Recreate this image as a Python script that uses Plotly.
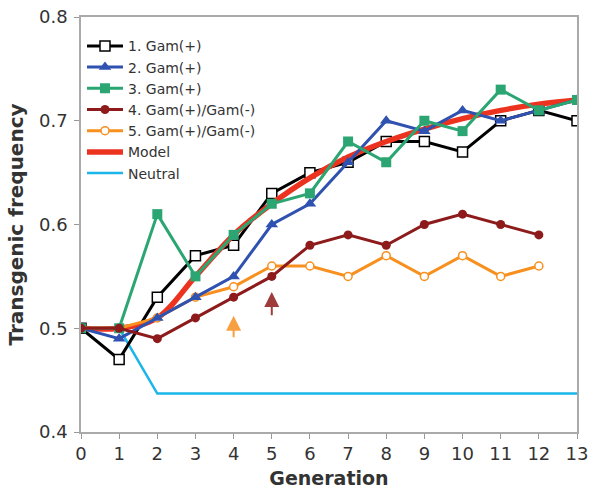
import plotly.graph_objects as go

generation = list(range(14))
gam1 = [0.50, 0.47, 0.53, 0.57, 0.58, 0.63, 0.65, 0.66, 0.68, 0.68, 0.67, 0.70, 0.71, 0.70]
gam2 = [0.50, 0.49, 0.51, 0.53, 0.55, 0.60, 0.62, 0.66, 0.70, 0.69, 0.71, 0.70, 0.71, 0.72]
gam3 = [0.50, 0.50, 0.61, 0.55, 0.59, 0.62, 0.63, 0.68, 0.66, 0.70, 0.69, 0.73, 0.71, 0.72]
gam4 = [0.50, 0.50, 0.49, 0.51, 0.53, 0.55, 0.58, 0.59, 0.58, 0.60, 0.61, 0.60, 0.59]
gam5 = [0.50, 0.50, 0.51, 0.53, 0.54, 0.56, 0.56, 0.55, 0.57, 0.55, 0.57, 0.55, 0.56]
model = [0.50, 0.50, 0.51, 0.55, 0.59, 0.62, 0.645, 0.665, 0.68, 0.692, 0.702, 0.71, 0.716, 0.72]
neutral = [0.50, 0.50, 0.437, 0.437, 0.437, 0.437, 0.437, 0.437, 0.437, 0.437, 0.437, 0.437, 0.437, 0.437]

# arrows: (generation, tail value, tip value, colour)
arrow_gen = [4, 5]
arrow_tail = [0.490, 0.511]
arrow_tip = [0.512, 0.535]
arrow_col = ["#F7901E", "#8E1B1B"]

fig = go.Figure()

fig.add_trace(go.Scatter(x=generation, y=neutral, mode="lines", name="Neutral",
                         line=dict(color="#1CB5EA", width=2.5), legendrank=7))
fig.add_trace(go.Scatter(x=generation, y=gam1, mode="lines+markers", name="1. Gam(+)",
                         line=dict(color="#000000", width=3),
                         marker=dict(symbol="square", size=10, color="white",
                                     line=dict(color="#000000", width=1.5)), legendrank=1))
fig.add_trace(go.Scatter(x=generation, y=model, mode="lines", name="Model",
                         line=dict(color="#EC3320", width=5.5, shape="spline"), legendrank=6))
fig.add_trace(go.Scatter(x=generation[:len(gam5)], y=gam5, mode="lines+markers", name="5. Gam(+)/Gam(-)",
                         line=dict(color="#F7901E", width=3),
                         marker=dict(symbol="circle", size=8, color="white",
                                     line=dict(color="#F7901E", width=1.5)), legendrank=5))
fig.add_trace(go.Scatter(x=generation, y=gam2, mode="lines+markers", name="2. Gam(+)",
                         line=dict(color="#2F52B0", width=3),
                         marker=dict(symbol="triangle-up", size=11, color="#2F52B0"), legendrank=2))
fig.add_trace(go.Scatter(x=generation, y=gam3, mode="lines+markers", name="3. Gam(+)",
                         line=dict(color="#2BA673", width=3),
                         marker=dict(symbol="square", size=10, color="#2BA673"), legendrank=3))
fig.add_trace(go.Scatter(x=generation[:len(gam4)], y=gam4, mode="lines+markers", name="4. Gam(+)/Gam(-)",
                         line=dict(color="#8E1B1B", width=3),
                         marker=dict(symbol="circle", size=9, color="#8E1B1B"), legendrank=4))

for g, t0, t1, c in zip(arrow_gen, arrow_tail, arrow_tip, arrow_col):
    fig.add_annotation(x=g, y=t1, ax=g, ay=t0, xref="x", yref="y", axref="x", ayref="y",
                       showarrow=True, arrowhead=2, arrowsize=1.5, arrowwidth=2,
                       arrowcolor=c, text="", opacity=0.85)

fig.update_layout(
    width=589, height=491,
    margin=dict(l=81, r=12, t=17, b=59),
    paper_bgcolor="white", plot_bgcolor="white",
    font=dict(family="DejaVu Sans", color="#333333"),
    showlegend=True,
    legend=dict(x=0.002, y=0.968, xanchor="left", yanchor="top",
                bgcolor="rgba(0,0,0,0)", font=dict(size=14, color="#333333"),
                tracegroupgap=0, itemwidth=36),
)
fig.update_xaxes(range=[0, 13], tickmode="array", tickvals=generation,
                 ticks="outside", ticklen=5, tickcolor="#999999", ticklabeloverflow="allow",
                 showline=True, linecolor="#AAAAAA", linewidth=1.5, mirror=True,
                 showgrid=False, zeroline=False, automargin=False,
                 tickfont=dict(size=18, color="#333333"),
                 title=dict(text="<b>Generation</b>", font=dict(size=19, color="#333333"), standoff=8))
fig.update_yaxes(range=[0.4, 0.8], tickvals=[0.4, 0.5, 0.6, 0.7, 0.8], ticktext=["0.4", "0.5", "0.6", "0.7", "0.8"],
                 ticks="outside", ticklen=5, tickcolor="#999999", ticklabelstandoff=3, ticklabeloverflow="allow",
                 showline=True, linecolor="#AAAAAA", linewidth=1.5, mirror=True,
                 showgrid=False, zeroline=False, automargin=False,
                 tickfont=dict(size=18, color="#333333"),
                 title=dict(text="<b>Transgenic frequency</b>", font=dict(size=20, color="#333333"), standoff=10))

# remove the page's default body margin and scrollbars so the 589x491 figure fills the window
fig.write_html("out.html", config={"displayModeBar": False},
               post_script="document.body.style.margin='0';document.body.style.overflow='hidden';")
